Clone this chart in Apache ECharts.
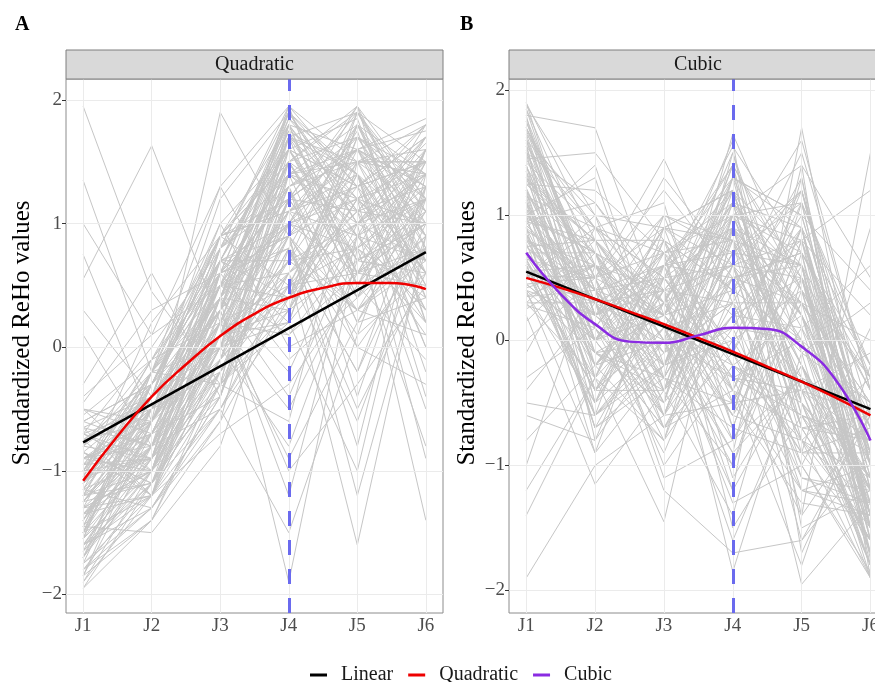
<!DOCTYPE html>
<html><head><meta charset="utf-8">
<script src="https://cdn.jsdelivr.net/npm/echarts@6/dist/echarts.min.js"></script>
<style>html,body{margin:0;padding:0;background:#fff}#c{width:875px;height:682px}</style>
</head><body><div id="c"></div>
<script>
// ---- data ----
const categories = ['J1','J2','J3','J4','J5','J6'];
const positions = [1,2,3,4,5,6];
const yTicks = [-2,-1,0,1,2];
const yTickLabels = ['\u22122','\u22121','0','1','2'];
const panelTitles = ['Quadratic','Cubic'];
const panelTags = ['A','B'];
const legendNames = ['Linear','Quadratic','Cubic'];
const markedTime = 4; // J4

// individual subjects, panel A (J1..J6)
const subjectsA = [
[ 1.95, 0.45,-0.30, 0.20, 0.90, 1.20],[ 1.35,-0.20, 0.40, 1.10, 0.30, 0.80],
[ 0.55, 1.63, 0.20,-0.50, 0.60, 1.00],[ 0.75,-0.60, 1.90, 0.90, 1.40, 0.50],
[ 1.00, 0.10, 1.30, 1.95, 0.50, 1.60],[ 0.10,-0.80, 0.90, 1.50, 1.95, 0.20],
[-0.30, 0.60,-0.40, 1.20, 1.60, 1.85],[-0.50,-1.00, 0.40,-1.90, 0.80, 1.30],
[-0.60,-0.30, 0.70, 1.80, 1.00,-1.40],[-0.70,-0.50,-0.20, 0.60,-1.60, 0.90],
[-1.90,-1.20,-0.50, 0.30, 0.70, 1.10],[-1.80,-1.40,-0.60, 1.40, 1.20, 0.60],
[-1.70,-0.90, 0.10, 1.70, 0.40, 1.50],[-1.60,-1.10,-0.30,-0.60, 1.50, 0.70],
[-1.50,-0.70, 0.50, 1.00, 1.80, 1.40],[-1.45,-1.50,-0.80, 0.80,-0.20, 1.00],
[-1.40,-0.40, 0.30,-1.20, 0.90, 0.30],[-1.35,-0.80, 0.60, 1.90, 1.30, 1.70],
[-1.30,-1.00,-0.10, 0.50, 1.10,-0.50],[-1.25,-0.60, 0.80, 1.30,-0.40, 1.20],
[-1.20,-0.20, 0.00, 0.40, 1.70, 0.90],[-1.15,-1.30,-0.40, 1.60, 0.60, 1.60],
[-1.10,-0.50, 0.20,-0.90, 0.20, 0.40],[-1.05, 0.20, 0.90, 1.50, 1.90, 1.10],
[-1.00,-0.90,-0.20, 0.70, 0.80,-0.80],[-0.95,-0.30, 0.40, 1.85, 1.40, 0.60],
[-0.90,-0.70, 0.10, 0.20,-1.00, 1.30],[-0.85,-1.20,-0.70,-0.30, 0.50, 0.80],
[-0.80,-0.10, 0.60, 1.20, 1.60, 1.75],[-0.75,-0.40, 1.00, 0.00, 0.30, 0.10],
[-1.85,-0.60, 0.30, 1.40, 1.00, 1.40],[-1.65,-1.00, 0.00, 0.90, 1.75, 0.20],
[-1.55,-0.30, 0.70, 1.75, 0.70, 1.00],[-1.45,-0.80,-0.50,-1.50, 0.10, 0.60],
[-1.35,-1.20, 0.20, 1.10, 1.30, 1.50],[-1.25,-0.50, 0.50, 0.60,-0.60, 0.90],
[-1.15,-0.90, 0.80, 1.95, 1.50, 0.40],[-1.05,-0.20,-0.30, 0.30, 1.20, 1.80],
[-0.95,-0.70, 0.40, 1.30, 0.00,-0.30],[-0.85,-1.10, 0.10, 0.70, 1.90, 1.20],
[-0.65,-0.40, 0.90, 1.60, 0.90, 0.70],[-0.45, 0.30, 0.60,-0.10, 0.40, 1.10],
[-1.75,-1.30,-0.60, 0.40, 1.40, 0.00],[-1.60,-0.80, 0.40, 1.80, 1.10, 1.30],
[-1.50,-0.50, 0.00,-0.80, 0.70, 1.60],[-1.30,-1.00, 0.60, 1.20, 1.60, 0.50],
[-1.20,-0.30, 0.30, 0.90,-1.20, 0.80],[-1.10,-0.70,-0.40, 1.50, 0.50, 1.40],
[-1.00,-0.10, 0.70, 0.40, 1.80, 0.90],[-0.90,-0.60, 0.20, 1.70, 1.20,-0.90],
[-0.80,-0.90, 0.50, 0.10, 0.60, 1.00],[-0.70, 0.00, 0.80, 1.40, 1.50, 1.50],
[-1.95,-1.40,-0.20, 0.80, 0.30, 0.70],[-1.40,-0.60, 0.10, 1.00, 1.95, 1.20],
[-1.20,-1.10, 0.40,-0.40, 0.90, 0.30],[-1.00,-0.40, 1.20, 1.90, 1.00, 1.60],
[-0.60,-0.80,-0.10, 0.60, 1.30, 0.60],[-1.55,-0.20, 0.50, 1.30, 0.20, 1.30],
[-1.25,-0.70, 0.00, 0.20, 1.70, 0.80],[-0.90,-0.50, 0.70, 1.60, 0.80, 1.70],
[-1.70,-1.00, 0.30,-1.00,-0.30, 0.50],[-1.10,-0.30, 0.90, 1.10, 1.40,-0.20],
[-0.50,-0.60, 0.20, 0.50, 0.60, 1.20],[-1.35,-0.90,-0.30, 1.80, 1.60, 1.00],
[-0.75,-1.20, 0.60, 0.90,-0.80, 1.40],[-1.50,-0.40, 0.40, 1.50, 1.10, 0.20],
[-1.00,-0.20, 1.30, 0.30, 1.90, 1.50],[-1.20,-0.60,-0.10, 1.20, 0.40, 0.90],
[ 0.30,-0.40, 0.50, 1.00, 1.20, 0.70],[-1.60,-1.20, 0.10, 0.70, 1.50, 1.80],
[-1.80,-1.10,-0.20, 1.10, 1.70, 1.40],[-1.70,-0.70, 0.50, 1.90, 1.40, 0.90],
[-1.60,-1.30,-0.50, 0.60, 1.00, 1.70],[-1.50,-0.90, 0.20, 1.60, 1.85, 0.40],
[-1.40,-0.50, 0.70, 0.90, 0.30, 1.20],[-1.30,-1.20,-0.10, 1.30, 1.50, 1.60],
[-1.20,-0.80, 0.40, 1.70, 0.90, 0.10],[-1.10,-0.40, 0.90, 0.50, 1.60, 1.30],
[-1.00,-1.00,-0.40, 1.00, 0.60, 0.80],[-0.90,-0.60, 0.30, 1.95, 1.30, 1.50],
[-0.80,-0.20, 0.60, 0.80, 1.80, 0.60],[-0.70,-0.90, 0.00, 1.40, 0.20, 1.10],
[-0.60,-0.30, 0.80, 1.20, 1.10, 1.65],[-0.50,-0.70, 0.10, 0.30, 1.40, 0.30],
[-0.40, 0.10, 0.50, 1.50, 0.70, 1.00],[-1.85,-1.40,-0.30, 0.90, 1.20, 1.50],
[-1.75,-0.60, 0.60, 1.40, 1.60, 0.70],[-1.65,-1.10, 0.00, 1.80, 0.50, 1.20],
[-1.55,-0.80, 0.40,-0.20, 1.00, 1.40],[-1.45,-0.40, 0.90, 1.20, 1.90, 0.90],
[-1.35,-1.00,-0.20, 0.80,-0.50, 0.60],[-1.25,-0.60, 0.30, 1.60, 1.30, 1.80],
[-1.15,-0.20, 0.70, 1.00, 0.80, 0.20],[-1.05,-0.90, 0.10, 1.30, 1.60, 1.20],
[-0.95,-0.50, 0.50, 0.40, 1.00, 1.50],[-0.85,-1.10,-0.30, 1.70, 1.40,-0.40],
[-0.75,-0.30, 0.60, 0.90, 0.00, 0.80],[-0.65,-0.80, 0.20, 1.50, 1.70, 1.30],
[-0.55,-0.10, 0.90, 1.80, 0.60, 0.50],[-1.90,-1.00, 0.10, 0.60, 1.10, 1.00],
[-1.80,-1.30,-0.40, 1.20, 0.40, 1.60],[-1.70,-0.50, 0.30, 1.70, 1.50, 1.10],
[-1.60,-0.90, 0.70, 0.20, 1.80, 0.70],[-1.50,-1.20,-0.10, 1.40, 0.90, 1.40],
[-1.40,-0.70, 0.40, 1.00, 1.30, 0.00],[-1.30,-0.30, 0.80, 1.90, 1.10, 1.70],
[-1.20,-1.00, 0.00, 0.70, 0.30, 0.90],[-1.10,-0.60, 0.50, 1.30, 1.70, 1.20],
[-1.00,-0.20, 1.00, 1.60, 0.70, 0.60],[-0.90,-0.80,-0.20, 0.50, 1.50, 1.40],
[-0.80,-0.40, 0.30, 1.10, 0.90, 1.80],[-0.70,-1.00, 0.60, 1.85, 1.20, 0.30],
[-1.85,-0.80, 0.20, 1.00, 1.60, 1.30],[-1.75,-1.20,-0.30, 0.40, 1.20, 1.00],
[-1.65,-0.60, 0.50, 1.50, 0.60, 1.50],[-1.55,-1.00, 0.10, 1.20, 1.95, 0.80],
[-1.45,-0.30, 0.70, 0.70, 1.00, 1.20],[-1.35,-0.70, 0.40, 1.75, 1.40, 0.60],
[-1.25,-1.10,-0.10, 0.90, 0.10, 1.60],[-1.15,-0.50, 0.60, 1.40, 1.80, 1.10],
[-1.05,-0.10, 0.20, 0.10, 0.80, 0.40],[-0.95,-0.90, 0.80, 1.60, 1.30, 1.70],
[-0.85,-0.40, 0.00, 1.20, 1.60, 0.90],[-0.75,-0.60, 0.50, 0.80,-0.20, 1.30],
[-0.65,-1.20, 0.30, 1.90, 1.00, 0.70],[-1.95,-1.10,-0.50, 0.50, 0.80, 1.20],
[-1.50,-0.20, 0.90, 1.10, 1.50, 1.50],[-1.30,-0.80, 0.10, 1.50, 0.50,-0.10],
[-1.10,-0.40, 0.40, 0.30, 1.20, 1.40],[-0.90,-1.00, 0.70, 1.70, 1.90, 1.00]
];

// individual subjects, panel B (J1..J6)
const subjectsB = [
[ 1.90, 0.80, 0.30, 1.20,-0.50,-1.20],[ 1.80, 1.70, 0.20,-0.40, 0.60,-0.90],
[ 1.70, 0.50, 1.45, 0.30,-0.80,-1.50],[ 1.60, 0.20,-0.30, 1.65, 0.40,-0.30],
[ 1.50, 1.10, 0.40,-1.20, 1.70,-1.00],[ 1.40, 0.00, 0.90, 0.80,-1.40, 1.50],
[ 1.30, 0.60,-0.50, 1.30, 0.20,-1.70],[ 1.25, 1.20, 0.70,-0.10, 1.20,-0.60],
[ 1.20,-0.40, 0.10, 1.00,-0.20,-1.30],[ 1.15, 0.90, 1.10,-0.70, 0.80, 0.20],
[ 1.10, 0.30,-0.80, 0.60,-1.00,-1.85],[ 1.05,-0.20, 0.50, 1.40, 0.50,-0.80],
[ 1.00, 0.70, 0.00,-1.60,-0.30,-1.10],[ 0.95, 0.10, 0.80, 0.40, 1.50,-0.40],
[ 0.90, 1.40,-0.20, 0.90,-0.70,-1.60],[ 0.85,-0.70, 0.30, 1.10, 0.10, 0.60],
[ 0.80, 0.40, 1.00,-0.40,-1.20,-1.40],[ 0.75, 0.80,-0.60, 0.20, 0.90,-0.20],
[ 0.70,-0.10, 0.20, 1.50,-0.50,-1.90],[ 0.65, 0.50,-1.10,-0.80, 0.30,-0.70],
[ 0.60, 0.20, 0.60, 0.70, 1.10,-1.20],[ 0.55,-0.50, 0.40,-1.85,-0.10, 0.30],
[ 0.50, 1.00,-0.40, 0.50,-1.60,-0.90],[ 0.45, 0.00, 0.90, 1.20, 0.60,-1.50],
[ 0.40,-0.90,-0.20, 0.00,-0.90, 0.90],[ 0.35, 0.60, 0.10,-0.60, 1.30,-1.00],
[ 0.30,-0.30,-1.45, 0.90, 0.00,-0.50],[ 1.75, 0.40,-0.10, 0.30,-1.95,-1.30],
[ 1.55, 0.90, 0.50, 1.55, 0.70,-1.75],[ 1.35,-0.60, 0.00,-0.30,-0.40,-0.10],
[ 1.20, 0.30, 1.30, 0.60,-1.10,-1.20],[ 1.00, 1.30,-0.30,-1.00, 0.40,-0.60],
[ 0.85, 0.00, 0.60, 1.30,-0.70,-1.60],[ 0.70, 0.70,-0.70, 0.10, 1.00, 0.40],
[ 0.55,-0.40, 0.30,-0.50,-1.30,-1.40],[ 0.40, 0.20, 1.00, 0.80, 0.20,-0.80],
[ 0.20,-1.15,-0.40,-1.40, 0.50,-0.30],[ 0.00, 0.50, 0.20, 1.10,-0.80,-1.10],
[-0.30, 0.10,-0.90, 0.40, 0.80, 1.20],[-0.60,-0.80, 0.50,-0.20,-0.50,-1.50],
[-1.00, 0.60,-0.20, 0.70, 1.60,-0.40],[-1.40,-0.30, 0.70,-1.10,-0.20,-1.80],
[-1.90,-1.00,-0.60, 0.50, 0.30,-0.70],[-0.10, 0.90, 0.00, 1.40,-1.50,-1.20],
[ 1.65, 0.10,-0.50, 0.20, 0.10,-0.90],[ 1.45, 1.50, 0.80,-0.70,-0.90,-1.60],
[ 1.10,-0.20, 0.40, 1.00, 0.70,-0.20],[ 0.90, 0.40,-1.00,-0.20,-0.60,-1.30],
[ 0.60,-0.60, 0.90, 0.60, 1.20,-0.80],[ 0.30, 0.80, 0.10,-1.30,-1.00, 0.10],
[ 1.85, 0.20, 0.60, 0.90,-0.30,-1.70],[ 1.30,-0.10,-0.30,-0.50, 0.90,-1.00],
[ 0.95, 1.10, 0.30, 1.60,-1.70,-0.50],[ 0.65,-0.30,-0.80, 0.00, 0.40,-1.40],
[ 0.45, 0.50, 1.20, 0.50,-0.10,-1.90],[ 1.50,-0.50, 0.00,-0.90, 1.40, 0.50],
[ 1.15, 0.70,-0.40, 1.20,-0.40,-1.10],[ 0.80, 0.00, 0.50,-0.30,-1.40,-0.60],
[ 0.50, 0.30,-0.60, 0.80, 0.60,-1.50],[-0.80,-0.20, 0.30,-0.60,-0.80,-0.30],
[ 1.60, 1.00, 0.90, 0.40, 0.00,-1.20],[ 1.00,-0.70,-0.20, 1.30, 1.00,-0.90],
[ 0.75, 0.20, 0.70,-1.50,-0.60,-1.60],[ 0.25, 0.60,-0.10, 0.30, 0.30, 0.00],
[ 1.40, 0.00,-0.70,-0.10,-1.20,-1.30],[ 0.60,-0.40, 0.40, 1.00, 0.80,-0.70],
[ 1.25, 0.80, 0.10,-0.80,-0.30,-1.80],[-0.40, 0.30,-0.30, 0.60, 0.50,-1.00],
[ 0.90,-0.90, 0.60,-0.40,-1.80,-0.20],[ 1.70, 0.40, 0.20, 0.90, 0.20,-1.40],
[ 1.85, 0.60, 0.20, 0.80,-0.20,-1.10],[ 1.75, 0.30,-0.40, 1.10, 0.50,-1.60],
[ 1.65, 0.90, 0.50,-0.30,-0.60,-0.80],[ 1.55,-0.20, 0.00, 1.30, 0.90,-1.40],
[ 1.45, 0.50, 0.70, 0.20,-1.00,-1.90],[ 1.35, 0.10,-0.60, 0.90, 0.30,-0.50],
[ 1.25, 0.70, 0.30,-0.60, 1.10,-1.20],[ 1.15,-0.40, 0.60, 1.20,-0.40,-1.70],
[ 1.05, 0.40,-0.20, 0.50, 0.70,-0.30],[ 0.95, 0.80, 0.80,-0.20,-0.80,-1.30],
[ 0.85,-0.10,-0.50, 1.00, 0.20,-1.00],[ 0.75, 0.30, 0.40, 0.30, 1.30,-1.50],
[ 0.65,-0.60, 0.10,-0.90,-0.30,-0.60],[ 0.55, 0.60,-0.30, 0.70, 0.60,-1.80],
[ 0.45, 0.00, 0.70, 1.10,-0.60,-0.90],[ 0.35, 0.40,-0.70,-0.40, 0.90,-1.20],
[ 1.90, 0.20, 0.40, 0.60, 0.00,-1.40],[ 1.80,-0.30, 0.80,-0.10,-0.90,-0.70],
[ 1.70, 0.70,-0.10, 1.40, 0.40,-1.60],[ 1.60, 0.00, 0.20, 0.40, 1.20,-1.00],
[ 1.50, 0.50,-0.60,-0.50,-0.40,-1.80],[ 1.40,-0.50, 0.50, 0.90, 0.60,-0.40],
[ 1.30, 0.80, 0.00, 0.10,-1.10,-1.30],[ 1.20, 0.10, 0.90, 1.20, 0.20,-0.80],
[ 1.10,-0.70,-0.30,-0.70, 0.80,-1.50],[ 1.00, 0.40, 0.50, 0.60,-0.50,-1.10],
[ 0.90,-0.20,-0.80, 1.00, 1.10,-0.20],[ 0.80, 0.60, 0.20,-0.30, 0.00,-1.70],
[ 0.70, 0.20, 0.70, 0.80,-0.70,-0.60],[ 0.60,-0.40,-0.40, 0.20, 0.50,-1.30],
[ 0.50, 0.90, 0.30, 1.30, 1.00,-0.90],[ 0.40,-0.10, 0.00,-1.20,-0.20,-1.50],
[ 0.30, 0.30, 0.60, 0.50, 0.70,-0.40],[ 1.88, 1.00, 0.10, 0.30,-0.30,-1.20],
[ 1.62, 0.20,-0.20, 1.00, 1.40,-1.90],[ 1.38, 0.60, 0.40,-0.40,-0.70,-0.80],
[ 1.12,-0.30, 1.00, 0.70, 0.30,-1.40],[ 0.88, 0.50,-0.50, 1.50,-0.10,-0.50],
[ 0.62, 0.00, 0.30,-0.10, 0.90,-1.60],[ 0.38,-0.50, 0.80, 0.40,-1.20,-1.00],
[ 0.15, 0.70,-0.20, 1.10, 0.40,-0.70],[ 1.78, 0.40, 0.60,-0.80, 0.10,-1.50],
[ 1.52,-0.10,-0.40, 0.60, 0.80,-1.10],[ 1.28, 0.80, 0.20, 1.20,-0.50,-1.80],
[ 1.02, 0.20, 0.50, 0.00, 1.10,-0.30],[ 0.78,-0.60,-0.10, 0.80,-0.20,-1.20],
[ 0.52, 0.50, 0.90,-0.50, 0.50,-1.40],[ 0.28, 0.10,-0.60, 0.90,-0.90,-0.90],
[ 1.68, 0.30, 0.00, 0.50, 0.60,-1.70],[ 1.42, 0.90, 0.70, 1.00,-0.40,-0.60],
[ 1.18,-0.40, 0.10,-0.20, 0.20,-1.30],[ 0.92, 0.40,-0.30, 0.70, 1.20,-1.00],
[ 0.68,-0.20, 0.60, 1.40,-0.60,-1.60],[ 0.42, 0.60, 0.20,-0.60, 0.30,-0.50],
[ 1.22, 0.00,-0.70, 0.30,-0.80,-1.90],[ 0.98, 0.70, 0.40, 1.10, 0.90,-1.10],
[-0.50,-0.60,-0.20, 0.10, 0.00,-1.20],[-1.20,-0.30, 0.30, 0.60,-0.40,-0.80],
[ 1.58,-0.80, 0.00,-1.00, 0.70,-1.40],[ 0.82, 0.30,-1.20,-1.70,-1.60,-0.60]
];

// fitted curves, read at these time points
const fitX = [1,1.5,2,2.5,3,3.5,4,4.5,5,5.5,6];
const linearX = [1,6];
const linearA = [-0.77, 0.77];
const quadA   = [-1.08,-0.72,-0.40,-0.14, 0.09, 0.27, 0.40, 0.48, 0.52, 0.52, 0.47];
const linearB = [0.55,-0.55];
const quadB   = [0.50, 0.42, 0.33, 0.23, 0.13, 0.02,-0.09,-0.21,-0.33,-0.46,-0.60];
const cubicB  = [0.70, 0.37, 0.13,-0.01,-0.02, 0.04, 0.10, 0.09,-0.05,-0.32,-0.80];

// ---- chart ----
const SERIF = '"Liberation Serif","DejaVu Serif",serif';
const GRAY = '#c6c6c6';
const grids = [
  {left:66, top:79, width:377, height:534},
  {left:509, top:79, width:367, height:534}
];
const xRanges = [[0.75, 6.25],[0.75, 6.08]];
const yRanges = [[-2.15, 2.17],[-2.18, 2.09]];
const fitColors = {Linear:'#000000', Quadratic:'#ee0000', Cubic:'#8a2be2'};

function pairs(xs, ys){ return xs.map((x,i)=>[x, ys[i]]); }

const xAxes = grids.map((g,i)=>({
  type:'value', gridIndex:i, min:xRanges[i][0], max:xRanges[i][1],
  axisLine:{show:false},
  splitLine:{show:false},
  axisTick:{show:true, customValues:positions, length:4, lineStyle:{color:'#333', width:1}},
  axisLabel:{show:true, customValues:positions, margin:4,
    formatter:v=>categories[positions.indexOf(Math.round(v))] || '',
    fontFamily:SERIF, fontSize:19, color:'#4d4d4d'}
}));
const yAxes = grids.map((g,i)=>({
  type:'value', gridIndex:i, min:yRanges[i][0], max:yRanges[i][1],
  axisLine:{show:false},
  splitLine:{show:false},
  axisTick:{show:true, customValues:yTicks, length:4, lineStyle:{color:'#333', width:1}},
  axisLabel:{show:true, customValues:yTicks, margin:4,
    formatter:v=>yTickLabels[yTicks.indexOf(Math.round(v))] || '',
    fontFamily:SERIF, fontSize:19, color:'#4d4d4d'}
}));

const series = [];
// grid lines
[0,1].forEach(i=>{
  series.push({
    type:'line', xAxisIndex:i, yAxisIndex:i, data:[], silent:true, z:1,
    markLine:{silent:true, symbol:'none', animation:false, label:{show:false},
      lineStyle:{color:'#ebebeb', width:1, type:'solid'},
      data: positions.map(p=>({xAxis:p})).concat(yTicks.map(t=>({yAxis:t})))}
  });
});
// subjects
[[subjectsA,0],[subjectsB,1]].forEach(([rows,i])=>{
  rows.forEach(r=>{
    series.push({type:'line', xAxisIndex:i, yAxisIndex:i, data:pairs(positions, r),
      symbol:'none', silent:true, z:2, lineStyle:{color:GRAY, width:1}});
  });
});
// vertical dashed line at J4
[0,1].forEach(i=>{
  series.push({
    type:'line', xAxisIndex:i, yAxisIndex:i, data:[], silent:true, z:3,
    markLine:{silent:true, symbol:'none', animation:false, label:{show:false},
      lineStyle:{color:'#6a6aee', width:3, type:[15,14]},
      data:[{xAxis:markedTime}]}
  });
});
// fits
function fit(name, i, xs, ys, smooth, z){
  series.push({name:name, type:'line', xAxisIndex:i, yAxisIndex:i, data:pairs(xs, ys),
    smooth:smooth, symbol:'none', z:z, color:fitColors[name],
    lineStyle:{color:fitColors[name], width:2.5}});
}
fit('Linear', 0, linearX, linearA, false, 5);
fit('Quadratic', 0, fitX, quadA, true, 6);
fit('Linear', 1, linearX, linearB, false, 5);
fit('Quadratic', 1, fitX, quadB, true, 6);
fit('Cubic', 1, fitX, cubicB, true, 7);

const graphics = [];
grids.forEach((g,i)=>{
  graphics.push({type:'rect', shape:{x:g.left, y:50, width:g.width, height:29},
    style:{fill:'#d9d9d9', stroke:'#7f7f7f', lineWidth:1}, z:10});
  graphics.push({type:'text', x:[66+377/2, 698][i], y:65,
    style:{text:panelTitles[i], fontFamily:SERIF, fontSize:20, fill:'#1a1a1a', align:'center', verticalAlign:'middle'}, z:11});
  graphics.push({type:'text', x:[15,460][i], y:25,
    style:{text:panelTags[i], fontFamily:SERIF, fontSize:20, fontWeight:'bold', fill:'#000', align:'left', verticalAlign:'middle'}, z:11});
  graphics.push({type:'text', x:[22,467][i], y:333, rotation:Math.PI/2,
    style:{text:'Standardized ReHo values', fontFamily:SERIF, fontSize:25, fill:'#000', align:'center', verticalAlign:'middle'}, z:11});
});

const chart = echarts.init(document.getElementById('c'), null, {renderer:'canvas'});
chart.setOption({
  animation:false,
  backgroundColor:'#fff',
  grid: grids.map(g=>Object.assign({show:true, borderColor:'#8c8c8c', borderWidth:1, backgroundColor:'#fff', containLabel:false, outerBoundsMode:'none'}, g)),
  xAxis:xAxes, yAxis:yAxes,
  legend:{data:legendNames, top:660, left:305, icon:'rect', itemWidth:17, itemHeight:3, itemGap:15,
    textStyle:{fontFamily:SERIF, fontSize:20, color:'#1a1a1a', padding:[0,0,0,9]}},
  series:series,
  graphic:graphics
});
</script></body></html>
